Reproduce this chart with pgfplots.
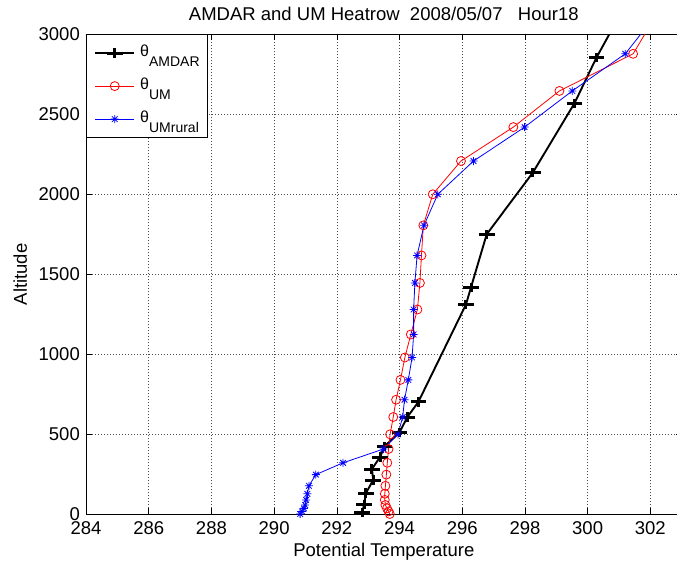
\documentclass[border=0pt]{standalone}
\usepackage{fontspec}
\setmainfont{Liberation Sans}
\usepackage{pgfplots}
\pgfplotsset{compat=1.18}
\pgfdeclareplotmark{mstar}{%
  \pgfpathmoveto{\pgfqpoint{-\pgfplotmarksize}{0pt}}\pgfpathlineto{\pgfqpoint{\pgfplotmarksize}{0pt}}%
  \pgfpathmoveto{\pgfqpoint{0pt}{-\pgfplotmarksize}}\pgfpathlineto{\pgfqpoint{0pt}{\pgfplotmarksize}}%
  \pgfpathmoveto{\pgfqpoint{-0.707\pgfplotmarksize}{-0.707\pgfplotmarksize}}\pgfpathlineto{\pgfqpoint{0.707\pgfplotmarksize}{0.707\pgfplotmarksize}}%
  \pgfpathmoveto{\pgfqpoint{-0.707\pgfplotmarksize}{0.707\pgfplotmarksize}}\pgfpathlineto{\pgfqpoint{0.707\pgfplotmarksize}{-0.707\pgfplotmarksize}}%
  \pgfusepathqstroke}
\pgfdeclareplotmark{hplus}{%
  \pgfpathmoveto{\pgfqpoint{-1.7\pgfplotmarksize}{0pt}}\pgfpathlineto{\pgfqpoint{1.7\pgfplotmarksize}{0pt}}%
  \pgfpathmoveto{\pgfqpoint{0pt}{-\pgfplotmarksize}}\pgfpathlineto{\pgfqpoint{0pt}{\pgfplotmarksize}}%
  \pgfusepathqstroke}
\newcommand{\lfont}{\fontsize{18.5}{22}\selectfont}
\begin{document}
\begin{tikzpicture}
\begin{axis}[
  width=595.7pt, height=480pt, scale only axis,
  xmin=284, xmax=303, ymin=0, ymax=3000,
  xtick={284,286,...,302}, ytick={0,500,...,3000},
  scaled ticks=false,
  /pgf/number format/assume math mode=true,
  /pgf/number format/1000 sep={},
  tick label style={font=\lfont},
  xticklabel style={anchor=north, inner sep=0pt, yshift=-7.5pt},
  yticklabel style={anchor=east, inner sep=0pt, xshift=-6pt},
  tick align=inside,
  major tick length=6pt,
  tick style={black, line width=0.6pt},
  axis line style={black, line width=0.8pt},
  grid=major,
  major grid style={dash pattern=on 1pt off 2pt, line width=0.6pt, black!70},
  xlabel={Potential Temperature},
  every axis x label/.style={at={(rel axis cs:0.5,0)}, anchor=base, yshift=-41.7pt, font=\lfont},
  ylabel={Altitude},
  every axis y label/.style={at={(rel axis cs:0,0.5)}, xshift=-59pt, rotate=90, anchor=base, font=\lfont},
  title={AMDAR and UM Heatrow\ \ 2008/05/07\ \ \ Hour18},
  every axis title/.style={at={(rel axis cs:0.5,1)}, anchor=base, yshift=13.8pt, font=\lfont},
  legend style={at={(rel axis cs:0,1)}, anchor=north west, draw=black, line width=0.6pt, fill=white,
    inner xsep=8pt, inner ysep=2pt, column sep=5pt, row sep=0pt,
    nodes={inner sep=0pt, text height=19.5pt, text depth=13.5pt, font=\fontsize{16}{16}\selectfont, anchor=west},
    cells={anchor=west}},
  legend image code/.code={\draw[mark repeat=2,mark phase=2,#1] plot coordinates {(0pt,0pt) (19.5pt,0pt) (39pt,0pt)};},
]
\addplot[black, line width=1.9pt, mark=hplus, mark size=4.6pt, mark options={line width=3pt}] coordinates {
(292.81,10) (292.87,63) (292.93,133) (293.16,214) (293.12,283) (293.38,358) (293.52,425)
(294.00,512) (294.25,608) (294.60,702) (296.12,1312) (296.28,1419) (296.78,1750)
(298.25,2135) (299.58,2569) (300.28,2854)};
\addlegendentry{θ\raisebox{-10pt}{\fontsize{14}{14}\selectfont AMDAR}}
\addplot[red, line width=0.8pt, mark=o, mark size=4.5pt, mark options={line width=0.8pt}] coordinates {
(293.69,2) (293.65,18) (293.60,37) (293.55,58) (293.53,90) (293.53,128) (293.55,178)
(293.58,248) (293.61,322) (293.65,408) (293.70,500) (293.80,608) (293.89,716) (294.03,840)
(294.17,980) (294.36,1124) (294.57,1280) (294.65,1446) (294.70,1618) (294.76,1806)
(295.06,2000) (295.96,2208) (297.63,2420) (299.10,2646) (301.45,2878)};
\addlegendentry{θ\raisebox{-10pt}{\fontsize{14}{14}\selectfont UM}}
\addplot[blue, line width=0.8pt, mark=mstar, mark size=4pt, mark options={line width=0.8pt}] coordinates {
(290.83,2) (290.89,18) (290.95,37) (290.99,58) (291.02,90) (291.06,128) (291.11,178)
(291.33,248) (292.20,322) (293.49,408) (293.95,500) (294.10,608) (294.16,716) (294.28,840)
(294.40,980) (294.45,1124) (294.45,1280) (294.49,1446) (294.56,1618) (294.78,1806)
(295.22,2000) (296.36,2208) (297.99,2420) (299.51,2646) (301.20,2878)};
\addlegendentry{θ\raisebox{-10pt}{\fontsize{14}{14}\selectfont UMrural}}
\addplot[black, line width=1.9pt, forget plot] coordinates {(300.28,2854) (301.0,3110)};
\addplot[red, line width=0.8pt, forget plot] coordinates {(301.45,2878) (302.2,3124)};
\addplot[blue, line width=0.8pt, forget plot] coordinates {(301.20,2878) (302.19,3124)};
\coordinate (bl) at (rel axis cs:0,0);
\end{axis}
\pgfresetboundingbox
\path[use as bounding box] ([xshift=-86pt,yshift=-47.7pt]bl) rectangle ([xshift=591pt,yshift=514.3pt]bl);
\end{tikzpicture}
\end{document}
